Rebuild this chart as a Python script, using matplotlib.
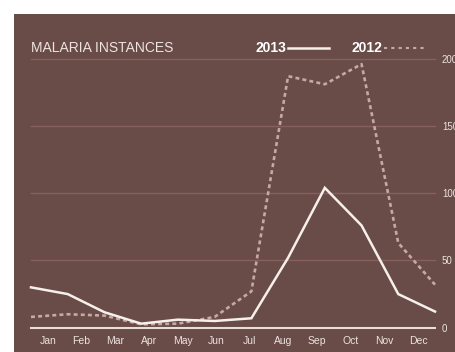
import matplotlib
matplotlib.use("Agg")
import matplotlib.pyplot as plt
from matplotlib.patches import Rectangle
from matplotlib.lines import Line2D

months = ["Jan", "Feb", "Mar", "Apr", "May", "Jun", "Jul", "Aug", "Sep", "Oct", "Nov", "Dec"]
cases_2013 = [30, 25, 11.5, 3, 6, 5, 7, 52, 104, 76, 25, 12]
cases_2012 = [8, 10, 9, 2.5, 3, 8, 27, 187, 181, 196, 63, 32]
yticks = [0, 50, 100, 150, 200]

W, H = 455, 352
BG = "#694B48"
GRID = "#88605B"
SOLID = "#F6EFEA"
DASH = "#C6A9A4"
TXT = "#EDE3DF"

fig = plt.figure(figsize=(W / 100, H / 100), dpi=100)
fig.patch.set_facecolor("white")
fig.patches.append(Rectangle((14 / W, 0), 1, 1 - 14 / H, transform=fig.transFigure,
                             facecolor=BG, edgecolor="none", zorder=-10))

left, right = 31 / W, 435 / W
bottom, top = (H - 327.7) / H, (H - 58.7) / H
ax = fig.add_axes([left, bottom, right - left, top - bottom])
ax.set_zorder(5)
ax.set_facecolor("none")
n = len(months)
x = list(range(n))
ax.set_xlim(0, n - 1)
ax.set_ylim(0, 200)
for s in ax.spines.values():
    s.set_visible(False)

for v in yticks[1:]:
    ax.axhline(v, color=GRID, lw=1.0, zorder=1, clip_on=False)
ax.axhline(0, color="#E9DDD8", lw=1.5, zorder=1, clip_on=False)

ax.plot(x, cases_2012, color=DASH, lw=1.9, ls=(0, (1.5, 1.2)), zorder=2, clip_on=False)
ax.plot(x, cases_2013, color=SOLID, lw=1.8, zorder=3, clip_on=False, solid_joinstyle="miter")

# month labels sit at the centres of 12 equal bins spanning the plot width
label_pos = [(i + 0.5) * (n - 1) / n for i in range(n)]
ax.set_xticks(label_pos)
ax.set_xticklabels(months, fontsize=7.5, color=TXT, family="Liberation Sans")
ax.set_yticks(yticks)
ax.set_yticklabels([str(v) for v in yticks], fontsize=7, color=TXT, family="Liberation Sans")
ax.yaxis.tick_right()
ax.tick_params(axis="both", length=0)
ax.tick_params(axis="x", pad=6)
ax.tick_params(axis="y", pad=5)

fig.text(31 / W, 1 - 52.5 / H, "MALARIA INSTANCES", fontsize=10, color=TXT,
         family="Liberation Sans", va="baseline", ha="left")
fig.text(255 / W, 1 - 52.5 / H, "2013", fontsize=10, color="white", weight="bold",
         family="Liberation Sans", va="baseline", ha="left")
fig.lines.append(Line2D([288 / W, 329 / W], [1 - 48.3 / H, 1 - 48.3 / H], transform=fig.transFigure,
                        color=SOLID, lw=1.8))
fig.text(351 / W, 1 - 52.5 / H, "2012", fontsize=10, color="white", weight="bold",
         family="Liberation Sans", va="baseline", ha="left")
fig.lines.append(Line2D([384 / W, 425 / W], [1 - 48.3 / H, 1 - 48.3 / H], transform=fig.transFigure,
                        color=DASH, lw=1.5, ls=(0, (1.5, 2.0))))

fig.savefig("out.png", dpi=100, facecolor=fig.get_facecolor())
